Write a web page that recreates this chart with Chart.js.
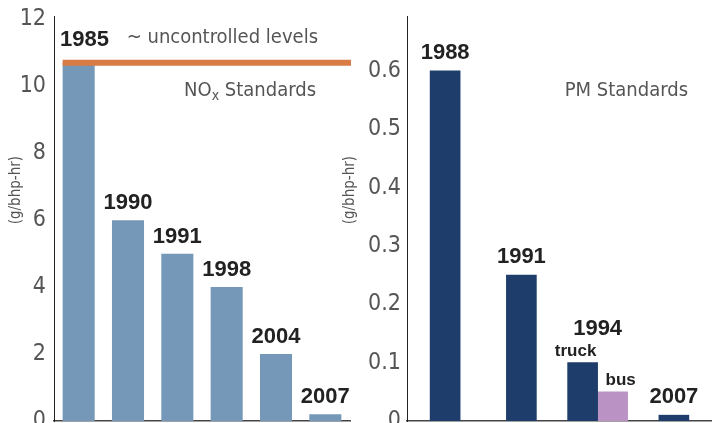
<!DOCTYPE html>
<html>
<head>
<meta charset="utf-8">
<script src="https://cdn.jsdelivr.net/npm/chart.js@4.4.1/dist/chart.umd.min.js"></script>
<style>
  body { margin: 0; background: #fff; width: 712px; height: 423px; position: relative; overflow: hidden; }
  #noxChart { position: absolute; left: 0; top: 0; }
  #pmChart { position: absolute; left: 338px; top: 0; }
</style>
</head>
<body>
<canvas id="noxChart" width="352" height="423"></canvas>
<canvas id="pmChart" width="374" height="423"></canvas>
<script>
// NOx standards (g/bhp-hr)
const noxYears = ['1985', '1990', '1991', '1998', '2004', '2007'];
const noxValues = [10.7, 6.0, 5.0, 4.0, 2.0, 0.2];
const uncontrolledLevel = 10.7;

// PM standards (g/bhp-hr)
const pmYears = ['1988', '1991', '1994', '2007'];
const pmTruck = [0.6, 0.25, 0.1, 0.01];
const pmBus = [null, null, 0.05, null];

const unitLabel = '(g/bhp-hr)';

const NARROW = "'Liberation Sans Narrow', 'DejaVu Sans Condensed', 'Arial Narrow', sans-serif";
const BOLD = "'Liberation Sans', Arial, sans-serif";
const GREY = '#555';

function yAxis(max, step, axisWidth, tickPad) {
  return {
    min: 0,
    max: max,
    ticks: { stepSize: step, includeBounds: false, color: GREY, padding: tickPad,
             font: { family: NARROW, size: 23 } },
    grid: { display: false, drawTicks: false },
    border: { display: true, color: '#222', width: 1 },
    afterFit: function (scale) {
      scale.width = axisWidth;
      scale.paddingTop = 0;
      scale.paddingBottom = 0;
    }
  };
}

const xAxis = {
  ticks: { display: false },
  grid: { display: false, drawTicks: false },
  border: { display: true, color: '#444', width: 1.5 },
  afterFit: function (scale) {
    scale.height = 0;
    scale.paddingLeft = 0;
    scale.paddingRight = 0;
  }
};

// unit label, rotated, a bit above the middle of the axis
function drawUnit(chart, x) {
  const ctx = chart.ctx;
  const area = chart.chartArea;
  ctx.save();
  ctx.translate(x, area.top + (area.bottom - area.top) * 0.43);
  ctx.rotate(-Math.PI / 2);
  ctx.fillStyle = GREY;
  ctx.font = '15px ' + NARROW;
  ctx.textAlign = 'center';
  ctx.textBaseline = 'middle';
  ctx.fillText(unitLabel, 0, 0);
  ctx.restore();
}

// year labels above each group of bars
function drawYearLabels(chart, lift, baseGap, obstacle) {
  const ctx = chart.ctx;
  const area = chart.chartArea;
  const labels = chart.data.labels;
  ctx.save();
  ctx.fillStyle = '#222';
  ctx.textBaseline = 'alphabetic';
  labels.forEach((label, i) => {
    const bars = [];
    chart.data.datasets.forEach((ds, d) => {
      if (ds.data[i] !== null && ds.data[i] !== undefined) {
        bars.push({ el: chart.getDatasetMeta(d).data[i], name: ds.label });
      }
    });
    if (!bars.length) return;
    let top = Math.min(...bars.map(b => b.el.y));
    // keep the label clear of the uncontrolled line
    if (obstacle !== undefined && top < obstacle + 8) top = Math.min(top, obstacle - 3);
    const left = Math.min(...bars.map(b => b.el.x - b.el.width / 2));
    const right = Math.max(...bars.map(b => b.el.x + b.el.width / 2));
    let gap = baseGap;

    if (bars.length > 1) {
      // sub labels (truck / bus)
      ctx.font = 'bold 17px ' + BOLD;
      bars.forEach((b, k) => {
        const shift = k === 0 ? -7 : 8;
        ctx.textAlign = 'center';
        ctx.fillText(b.name, b.el.x + shift, b.el.y - 7);
      });
      gap = lift;
    }

    ctx.font = 'bold 22px ' + BOLD;
    const w = ctx.measureText(label).width;
    let x = (left + right) / 2 - w / 2;
    x = Math.max(x, area.left + 6);
    ctx.textAlign = 'left';
    ctx.fillText(label, x, top - gap);
  });
  ctx.restore();
}

const noxPlugin = {
  id: 'noxExtras',
  afterDatasetsDraw(chart) {
    const ctx = chart.ctx;
    const area = chart.chartArea;
    const y = chart.scales.y.getPixelForValue(uncontrolledLevel);
    const first = chart.getDatasetMeta(0).data[0];

    // uncontrolled level line
    ctx.save();
    ctx.strokeStyle = '#d97b45';
    ctx.lineWidth = 6;
    ctx.beginPath();
    ctx.moveTo(first.x - first.width / 2, y);
    ctx.lineTo(area.right + 1, y);
    ctx.stroke();

    ctx.fillStyle = GREY;
    ctx.textBaseline = 'alphabetic';
    ctx.textAlign = 'right';
    ctx.font = '20px ' + NARROW;
    ctx.fillText('~ uncontrolled levels', area.right - 32, y - 20);

    // NOx Standards with subscript x
    const rightEdge = area.right - 34;
    const base = y + 33;
    const rest = ' Standards';
    const restW = ctx.measureText(rest).width;
    ctx.font = '14px ' + NARROW;
    const subW = ctx.measureText('x').width;
    ctx.fillText('x', rightEdge - restW, base + 4);
    ctx.font = '20px ' + NARROW;
    ctx.fillText(rest, rightEdge, base);
    ctx.fillText('NO', rightEdge - restW - subW, base);
    ctx.restore();

    drawUnit(chart, 16);
    drawYearLabels(chart, 0, 11, y - 3);
  }
};

const pmPlugin = {
  id: 'pmExtras',
  afterDatasetsDraw(chart) {
    const ctx = chart.ctx;
    const area = chart.chartArea;
    ctx.save();
    ctx.fillStyle = GREY;
    ctx.textAlign = 'right';
    ctx.textBaseline = 'alphabetic';
    ctx.font = '20px ' + NARROW;
    ctx.fillText('PM Standards', area.right - 24, 96);
    ctx.restore();
    drawUnit(chart, 12);
    drawYearLabels(chart, 28, 12);
  }
};

new Chart(document.getElementById('noxChart').getContext('2d'), {
  type: 'bar',
  data: {
    labels: noxYears,
    datasets: [{
      label: 'NOx',
      data: noxValues,
      backgroundColor: '#7698b8',
      barPercentage: 0.65,
      categoryPercentage: 1.0
    }]
  },
  options: {
    responsive: false,
    animation: false,
    events: [],
    layout: { padding: { top: 16, right: 2, bottom: 2, left: 0 } },
    scales: { x: xAxis, y: yAxis(12.1, 2, 54, 8) },
    plugins: { legend: { display: false }, tooltip: { enabled: false } }
  },
  plugins: [noxPlugin]
});

new Chart(document.getElementById('pmChart').getContext('2d'), {
  type: 'bar',
  data: {
    labels: pmYears,
    datasets: [
      {
        label: 'truck',
        data: pmTruck,
        backgroundColor: '#1e3d6b',
        barThickness: 30,
        skipNull: true
      },
      {
        label: 'bus',
        data: pmBus,
        backgroundColor: '#ba93c4',
        barThickness: 30,
        skipNull: true
      }
    ]
  },
  options: {
    responsive: false,
    animation: false,
    events: [],
    layout: { padding: { top: 16, right: 0, bottom: 2, left: 0 } },
    scales: { x: xAxis, y: yAxis(0.694, 0.1, 69, 6) },
    plugins: { legend: { display: false }, tooltip: { enabled: false } }
  },
  plugins: [pmPlugin]
});
</script>
</body>
</html>
